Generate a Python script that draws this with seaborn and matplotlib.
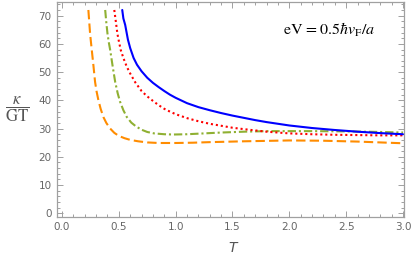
import matplotlib
matplotlib.use("Agg")
import matplotlib.pyplot as plt
from matplotlib.ticker import MultipleLocator
import seaborn as sns
import pandas as pd

# ---- data ----
T_blue = [0.53, 0.54, 0.556, 0.58, 0.60, 0.63, 0.66, 0.70, 0.75, 0.80, 0.85, 0.90, 0.95, 1.00,
          1.10, 1.20, 1.30, 1.40, 1.50, 1.60, 1.70, 1.80, 1.90, 2.00, 2.20, 2.40, 2.60, 2.80, 3.00]
k_blue = [72.0, 69.0, 66.7, 61.5, 58.5, 55.0, 52.6, 50.3, 48.0, 46.2, 44.7, 43.3, 42.0, 40.9,
          39.0, 37.6, 36.5, 35.5, 34.6, 33.8, 33.0, 32.3, 31.7, 31.1, 30.2, 29.5, 28.9, 28.4, 28.0]

T_red = [0.46, 0.475, 0.487, 0.50, 0.517, 0.54, 0.57, 0.60, 0.644, 0.70, 0.75, 0.80, 0.85, 0.90,
         0.95, 1.00, 1.10, 1.20, 1.30, 1.40, 1.50, 1.60, 1.80, 2.00, 2.20, 2.40, 2.60, 2.80, 3.00]
k_red = [72.0, 67.5, 63.7, 61.0, 57.8, 55.0, 51.9, 49.5, 46.4, 43.3, 41.4, 39.8, 38.3, 37.0,
         36.0, 35.1, 33.7, 32.6, 31.7, 31.0, 30.3, 29.8, 28.9, 28.3, 28.0, 27.8, 27.7, 27.6, 27.6]

T_green = [0.38, 0.39, 0.40, 0.412, 0.424, 0.444, 0.468, 0.49, 0.51, 0.54, 0.57, 0.61, 0.65, 0.70,
           0.75, 0.81, 0.90, 0.98, 1.10, 1.20, 1.40, 1.60, 1.80, 2.00, 2.20, 2.50, 2.80, 3.00]
k_green = [72.0, 67.5, 63.7, 60.5, 57.8, 52.5, 46.5, 42.5, 39.6, 36.5, 34.1, 32.1, 30.8, 29.6,
           28.8, 28.3, 28.0, 27.9, 28.0, 28.2, 28.6, 28.9, 29.1, 29.1, 29.1, 29.0, 28.8, 28.6]

T_orange = [0.232, 0.24, 0.247, 0.255, 0.262, 0.276, 0.291, 0.305, 0.32, 0.34, 0.364, 0.39, 0.424,
            0.46, 0.50, 0.55, 0.60, 0.67, 0.75, 0.85, 1.00, 1.15, 1.30, 1.60, 2.00, 2.30, 2.60, 2.80, 3.00]
k_orange = [72.0, 67.5, 63.7, 60.5, 57.8, 52.5, 46.5, 43.0, 40.1, 37.0, 34.1, 32.0, 30.0,
            28.5, 27.4, 26.6, 26.0, 25.5, 25.1, 24.9, 24.9, 25.0, 25.2, 25.5, 25.8, 25.7, 25.4, 25.1, 24.8]

x_ticks = [0.0, 0.5, 1.0, 1.5, 2.0, 2.5, 3.0]
y_ticks = [0, 10, 20, 30, 40, 50, 60, 70]
annotation = r"$\mathrm{eV}\,{=}0.5\hbar v_{\mathrm{F}}/a$"

series = [
    ("blue", T_blue, k_blue),
    ("red", T_red, k_red),
    ("green", T_green, k_green),
    ("orange", T_orange, k_orange),
]
frames = []
for name, t, k in series:
    frames.append(pd.DataFrame({"T": t, "k": k, "s": name}))
df = pd.concat(frames, ignore_index=True)

sns.set_theme(style="white")
plt.rcParams["font.family"] = ["DejaVu Sans"]
plt.rcParams["mathtext.fontset"] = "stix"

fig = plt.figure(figsize=(4.11, 2.65), dpi=100)
ax = fig.add_axes([57 / 411, (265 - 216.7) / 265, (404 - 57) / 411, (216.7 - 1.5) / 265])

styles = {
    "blue": dict(color="#0000ff", ls="-"),
    "red": dict(color="#ff0000", ls=(0, (1.0, 1.4))),
    "green": dict(color="#8fb032", ls=(0, (4.0, 1.4, 1.0, 1.4))),
    "orange": dict(color="#ff8c00", ls=(0, (4.5, 2.0))),
}
for name in ["orange", "green", "red", "blue"]:
    sub = df[df["s"] == name]
    st = styles[name]
    sns.lineplot(data=sub, x="T", y="k", ax=ax, sort=False, color=st["color"],
                 linestyle=st["ls"], linewidth=1.5, legend=False)

ax.set_xlim(-0.044, 3.009)
ax.set_ylim(-1.2, 75.0)
ax.set_xticks(x_ticks)
ax.set_xticklabels([f"{v:.1f}" for v in x_ticks])
ax.set_yticks(y_ticks)
ax.set_yticklabels([str(v) for v in y_ticks])
ax.xaxis.set_minor_locator(MultipleLocator(0.1))
ax.yaxis.set_minor_locator(MultipleLocator(2))

frame_col = "#a0a0a0"
for sp in ax.spines.values():
    sp.set_color(frame_col)
    sp.set_linewidth(0.9)
ax.tick_params(which="both", direction="in", top=True, right=True, bottom=True, left=True,
               color=frame_col, labelcolor="#666666", labelsize=7.5, width=0.7)
ax.tick_params(which="major", length=4, pad=4)
ax.tick_params(which="minor", length=2)

ax.set_xlabel("")
ax.set_ylabel("")
fig.text(233 / 411, 1 - 248 / 265, "T", style="italic", color="#555555", fontsize=10,
         ha="center", va="center")
fig.text(17 / 411, 1 - 109 / 265, r"$\dfrac{\kappa}{\mathrm{GT}}$", color="#555555",
         fontsize=12, ha="center", va="center")
ax.text(0.651, 0.868, annotation, transform=ax.transAxes, fontsize=11.5, color="black",
        ha="left", va="center")

fig.savefig("out.png", dpi=100)
